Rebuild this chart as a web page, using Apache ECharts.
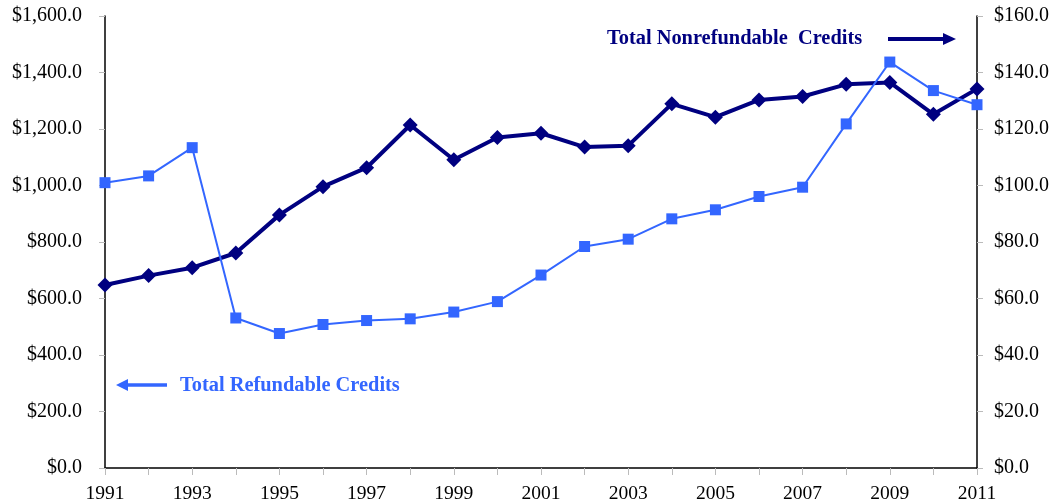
<!DOCTYPE html>
<html>
<head>
<meta charset="utf-8">
<script src="https://cdn.jsdelivr.net/npm/echarts@6/dist/echarts.min.js"></script>
<style>
html,body{margin:0;padding:0;background:#fff;}
#c{width:1055px;height:504px;}
</style>
</head>
<body>
<div id="c"></div>
<script>
const years = ['1991','1992','1993','1994','1995','1996','1997','1998','1999','2000','2001','2002','2003','2004','2005','2006','2007','2008','2009','2010','2011'];
const refundable = [1010,1034,1134,531,476,508,522,528,552,589,683,784,810,882,914,961,994,1218,1437,1336,1286];
const nonrefundable = [64.8,68.1,70.9,76.1,89.6,99.6,106.3,121.4,109.1,117.0,118.5,113.6,114.1,128.9,124.2,130.3,131.5,135.8,136.5,125.2,134.2];
const refundableName = 'Total Refundable Credits';
const nonrefundableName = 'Total Nonrefundable  Credits';

const NAVY = '#000080';
const BLUE = '#3366FF';
const FONT = '"Liberation Serif","Times New Roman",serif';

function money(v){
  const s = Number(v).toFixed(1);
  const parts = s.split('.');
  parts[0] = parts[0].replace(/\B(?=(\d{3})+(?!\d))/g, ',');
  return '$' + parts.join('.');
}

const chart = echarts.init(document.getElementById('c'), null, {renderer:'canvas'});
chart.setOption({
  animation:false,
  backgroundColor:'#fff',
  grid:{left:105, right:78, top:16, bottom:36},
  xAxis:{
    type:'category', data:years, boundaryGap:false,
    axisLine:{lineStyle:{color:'#000', width:1.5}},
    axisTick:{show:true, interval:0, length:7, lineStyle:{color:'#bbb'}},
    axisLabel:{interval:1, margin:16, fontFamily:FONT, fontSize:19.5, color:'#000'},
    splitLine:{show:false}
  },
  yAxis:[
    {type:'value', min:0, max:1600, interval:200, position:'left',
     axisLine:{show:true, lineStyle:{color:'#000', width:1.5}},
     axisTick:{show:true, length:6, lineStyle:{color:'#bbb'}},
     axisLabel:{margin:23, fontFamily:FONT, fontSize:20, color:'#000', formatter:money},
     splitLine:{show:false}},
    {type:'value', min:0, max:160, interval:20, position:'right',
     axisLine:{show:true, lineStyle:{color:'#000', width:1.5}},
     axisTick:{show:true, length:6, lineStyle:{color:'#bbb'}},
     axisLabel:{margin:17, fontFamily:FONT, fontSize:20, color:'#000', formatter:money},
     splitLine:{show:false}}
  ],
  series:[
    {name:nonrefundableName, type:'line', yAxisIndex:1, data:nonrefundable,
     symbol:'diamond', symbolSize:15,
     lineStyle:{color:NAVY, width:4}, itemStyle:{color:NAVY}, z:2},
    {name:refundableName, type:'line', yAxisIndex:0, data:refundable,
     symbol:'rect', symbolSize:11,
     lineStyle:{color:BLUE, width:2}, itemStyle:{color:BLUE}, z:3}
  ],
  graphic:[
    {type:'text', left:607, top:29, style:{text:nonrefundableName, fill:NAVY, font:'bold 20.4px '+FONT}},
    {type:'line', shape:{x1:888, y1:39, x2:945, y2:39}, style:{stroke:NAVY, lineWidth:4}},
    {type:'polygon', shape:{points:[[943,33],[956,39],[943,45]]}, style:{fill:NAVY}},
    {type:'text', left:180, top:376, style:{text:refundableName, fill:BLUE, font:'bold 20.4px '+FONT}},
    {type:'line', shape:{x1:125, y1:385, x2:167, y2:385}, style:{stroke:BLUE, lineWidth:3.5}},
    {type:'polygon', shape:{points:[[128,379],[116,385],[128,391]]}, style:{fill:BLUE}}
  ]
});
</script>
</body>
</html>
